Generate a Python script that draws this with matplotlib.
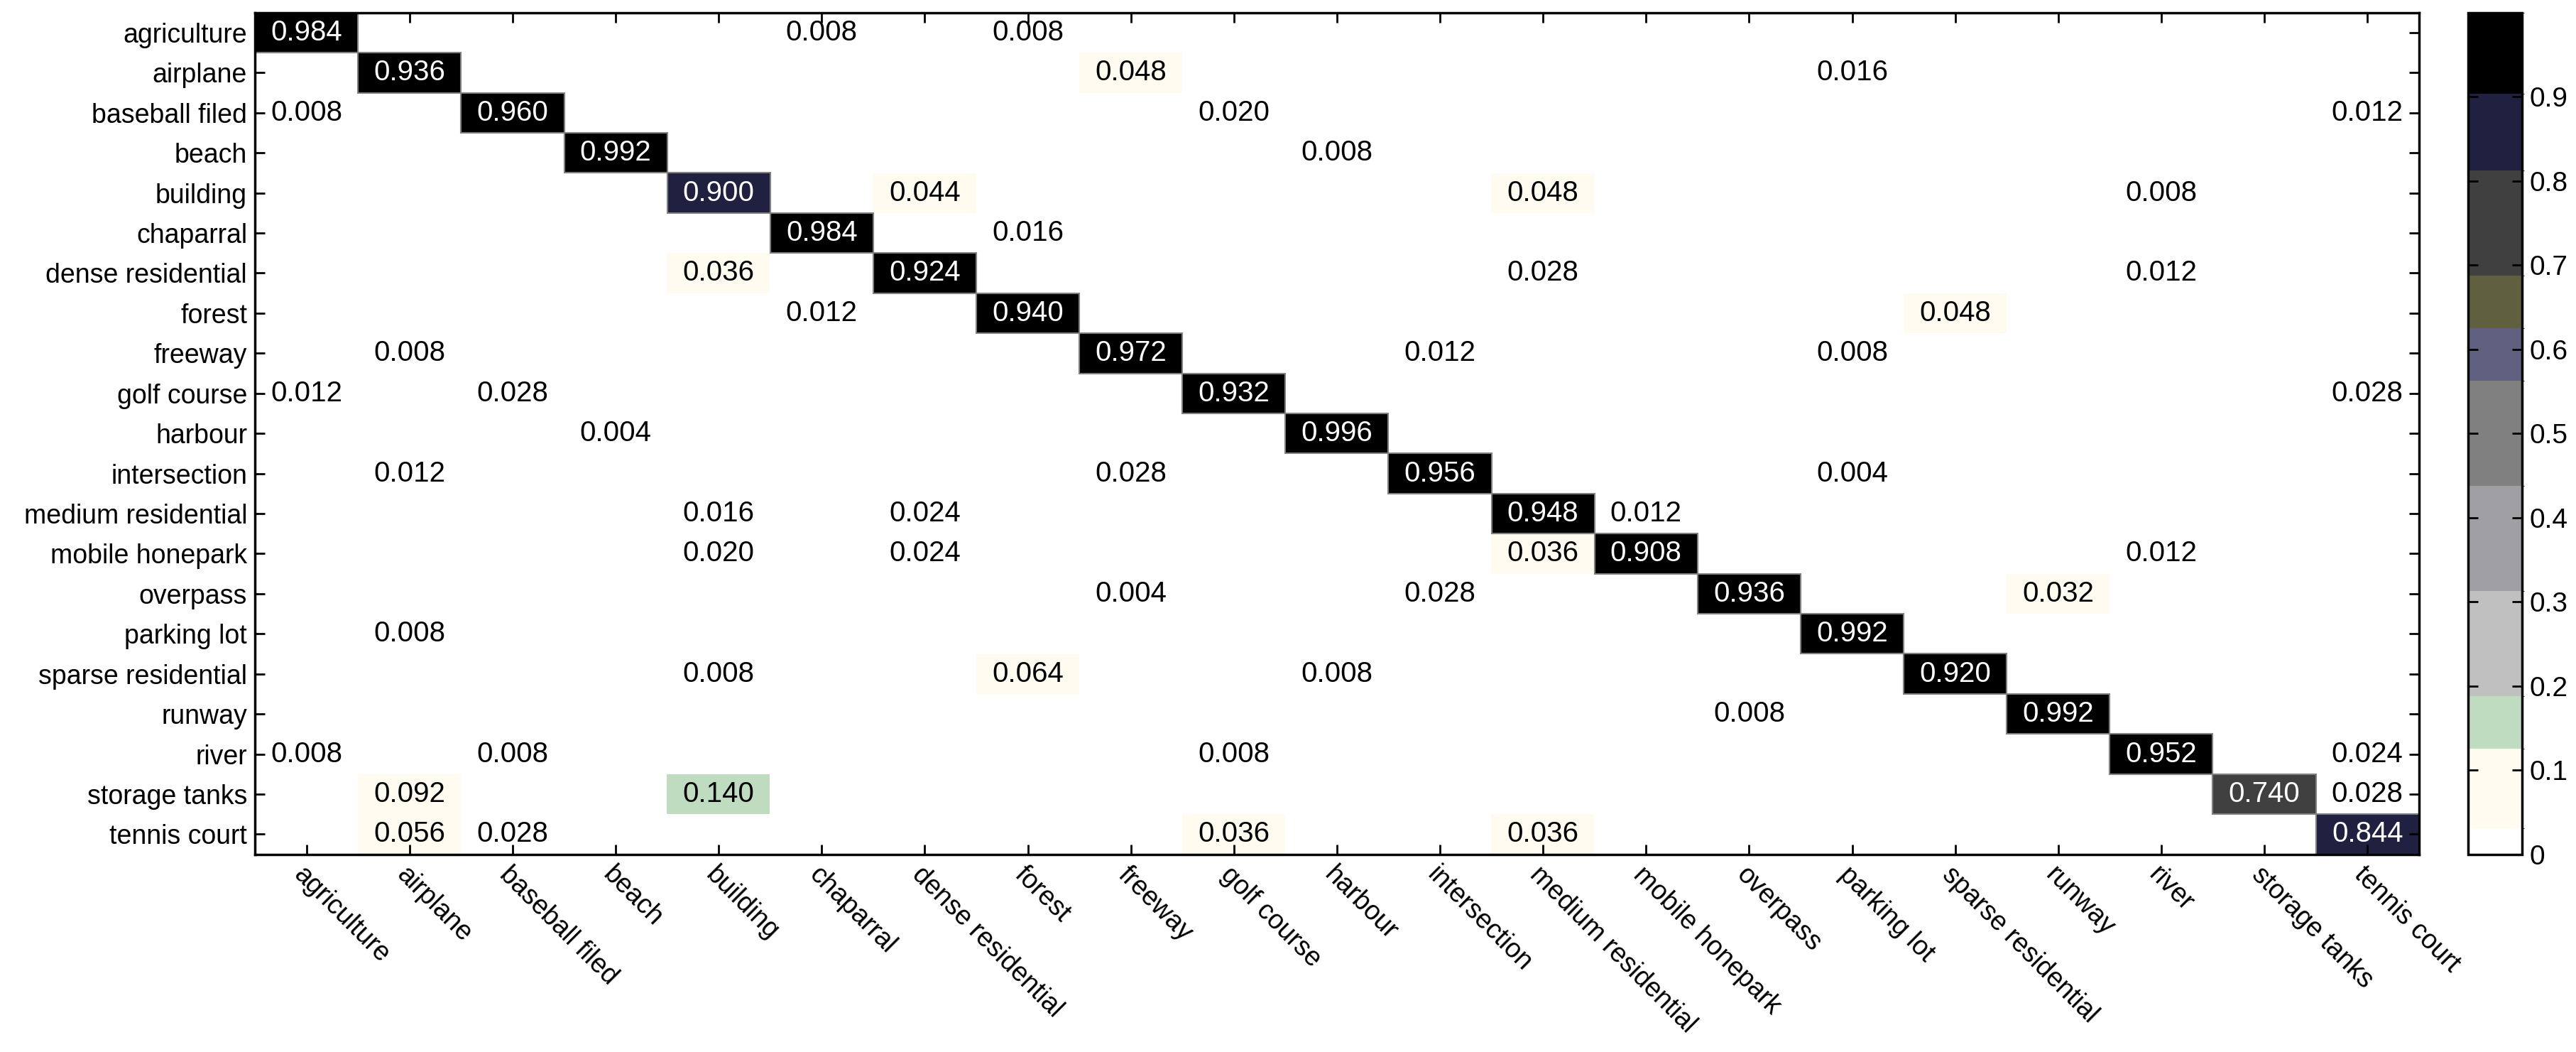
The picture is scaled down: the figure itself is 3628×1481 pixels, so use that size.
import numpy as np
import matplotlib
matplotlib.use("Agg")
import matplotlib.pyplot as plt
from matplotlib.colors import ListedColormap, BoundaryNorm
from matplotlib.patches import Rectangle

classes = ["agriculture", "airplane", "baseball filed", "beach", "building",
           "chaparral", "dense residential", "forest", "freeway", "golf course",
           "harbour", "intersection", "medium residential", "mobile honepark",
           "overpass", "parking lot", "sparse residential", "runway", "river",
           "storage tanks", "tennis court"]

# non-zero entries of the confusion matrix (row = true class, col = predicted)
nz_row = [0, 0, 0,
          1, 1, 1,
          2, 2, 2, 2,
          3, 3,
          4, 4, 4, 4,
          5, 5,
          6, 6, 6, 6,
          7, 7, 7,
          8, 8, 8, 8,
          9, 9, 9, 9,
          10, 10,
          11, 11, 11, 11,
          12, 12, 12, 12,
          13, 13, 13, 13, 13,
          14, 14, 14, 14,
          15, 15,
          16, 16, 16, 16,
          17, 17,
          18, 18, 18, 18, 18,
          19, 19, 19, 19,
          20, 20, 20, 20, 20]
nz_col = [0, 5, 7,
          1, 8, 15,
          0, 2, 9, 20,
          3, 10,
          4, 6, 12, 18,
          5, 7,
          4, 6, 12, 18,
          5, 7, 16,
          1, 8, 11, 15,
          0, 2, 9, 20,
          3, 10,
          1, 8, 11, 15,
          4, 6, 12, 13,
          4, 6, 12, 13, 18,
          8, 11, 14, 17,
          1, 15,
          4, 7, 10, 16,
          14, 17,
          0, 2, 9, 18, 20,
          1, 4, 19, 20,
          1, 2, 9, 12, 20]
nz_val = [0.984, 0.008, 0.008,
          0.936, 0.048, 0.016,
          0.008, 0.960, 0.020, 0.012,
          0.992, 0.008,
          0.900, 0.044, 0.048, 0.008,
          0.984, 0.016,
          0.036, 0.924, 0.028, 0.012,
          0.012, 0.940, 0.048,
          0.008, 0.972, 0.012, 0.008,
          0.012, 0.028, 0.932, 0.028,
          0.004, 0.996,
          0.012, 0.028, 0.956, 0.004,
          0.016, 0.024, 0.948, 0.012,
          0.020, 0.024, 0.036, 0.908, 0.012,
          0.004, 0.028, 0.936, 0.032,
          0.008, 0.992,
          0.008, 0.064, 0.008, 0.920,
          0.008, 0.992,
          0.008, 0.008, 0.008, 0.952, 0.024,
          0.092, 0.140, 0.740, 0.028,
          0.056, 0.028, 0.036, 0.036, 0.844]

cbar_ticks = [0, 0.1, 0.2, 0.3, 0.4, 0.5, 0.6, 0.7, 0.8, 0.9]

# discrete colormap (MATLAB-style palette)
band_colors = ["#FFFFFF", "#FFFBF0", "#C0DCC0", "#C0C0C0", "#A0A0A4", "#808080",
               "#606080", "#606040", "#404040", "#202040", "#000000"]
band_edges = [0, 1/32, 4/32, 6/32, 10/32, 14/32, 18/32, 20/32, 22/32, 26/32, 0.904, 1.0]

n = len(classes)
mat = np.zeros((n, n))
mat[nz_row, nz_col] = nz_val

FONT = ["Liberation Sans", "DejaVu Sans"]
plt.rcParams["font.family"] = FONT

fig = plt.figure(figsize=(36.28, 14.81), dpi=100)
ax = fig.add_axes([0.099, 0.188, 0.840, 0.800])
cax = fig.add_axes([0.958, 0.188, 0.021, 0.800])

cmap = ListedColormap(band_colors)
norm = BoundaryNorm(band_edges, cmap.N)

im = ax.imshow(mat, cmap=cmap, norm=norm, aspect="auto", interpolation="nearest",
               extent=(-0.5, n - 0.5, n - 0.5, -0.5))

for r, c, v in zip(nz_row, nz_col, nz_val):
    dark = v > 0.5
    if dark:
        ax.add_patch(Rectangle((c - 0.5, r - 0.5), 1, 1, fill=False,
                               edgecolor="#808080", linewidth=1.5, zorder=2))
    ax.text(c, r, f"{v:.3f}", ha="center", va="center", fontsize=29,
            color="white" if dark else "black", zorder=3)

ax.set_xlim(-0.5, n - 0.5)
ax.set_ylim(n - 0.5, -0.5)
ax.set_xticks(range(n))
ax.set_yticks(range(n))
ax.set_yticklabels(classes, fontsize=27)
ax.set_xticklabels(classes, fontsize=27, rotation=-45, ha="left", va="top",
                   rotation_mode="anchor")
ax.tick_params(direction="in", length=10, width=2, top=True, right=True,
               labeltop=False, labelright=False, pad=8)
for s in ax.spines.values():
    s.set_linewidth(2.5)
    s.set_zorder(5)

cb = fig.colorbar(im, cax=cax, spacing="proportional", ticks=cbar_ticks)
cb.ax.set_yticklabels([f"{t:g}" for t in cbar_ticks], fontsize=28)
cb.ax.tick_params(direction="in", length=10, width=2, left=True, right=True, pad=8)
cb.outline.set_linewidth(2.5)

fig.savefig("out.png", dpi=100)
